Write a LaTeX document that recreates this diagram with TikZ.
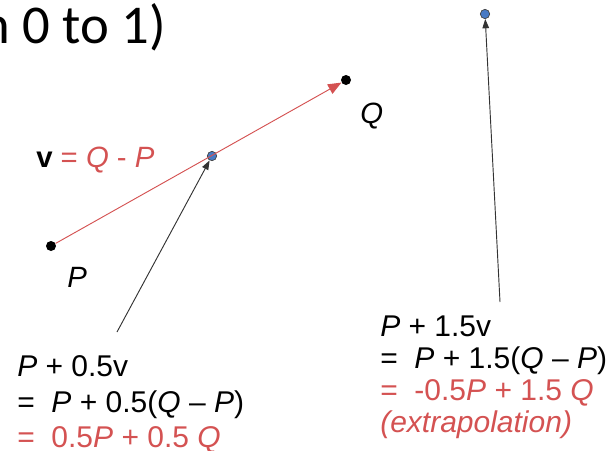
\documentclass[tikz,border=0pt]{standalone}
\usepackage{fontspec}
\setmainfont{Liberation Sans}
\newfontfamily\titlefont{Carlito}
\usetikzlibrary{arrows.meta}

\definecolor{exred}{RGB}{212,82,82}
\definecolor{ptblue}{RGB}{72,122,196}

\tikzset{
  dot/.style={circle,fill=black,inner sep=0pt,minimum size=7.5pt},
  bluedot/.style={circle,draw=black!75,fill=ptblue,inner sep=0pt,minimum size=7pt,line width=.5pt},
  vec/.style={exred,line width=.7pt,-{Triangle[length=10pt,width=8pt]}},
  pointer/.style={black!80,line width=.7pt,-{Triangle[length=7pt,width=5pt]}},
  lbl/.style={font=\fontsize{22}{26}\selectfont,inner sep=0pt},
  eqn/.style={align=left,anchor=north west,inner sep=0pt}
}

\begin{document}
\begin{tikzpicture}[x=.75pt,y=-.75pt]
    \useasboundingbox (0,0) rectangle (613,450);
    % title fragment
    \node[anchor=base east,inner sep=0pt,font=\titlefont\fontsize{41}{48}\selectfont] (title) at (166,43) {n 0 to 1)};
    % points
    \node[dot] (P) at (51,246) {};
    \node[dot] (Q) at (346,80) {};
    \node[bluedot] (mid) at (212,156) {};
    \node[bluedot] (far) at (485,14) {};
    \node[lbl,anchor=base west] (Plbl) at (67,287) {\textit{P}};
    \node[lbl,anchor=base west] (Qlbl) at (360,123) {\textit{Q}};
    \node[lbl,anchor=base west] (vlbl) at (36,167) {\textbf{v} \textcolor{exred}{= \textit{Q} - \textit{P}}};
    % v = Q - P
    \draw[vec] (P) -- (Q);
    % pointers to the two points
    \coordinate (midtail) at (117,332);
    \coordinate (fartail) at (500,302);
    \draw[pointer] (midtail) -- (mid);
    \draw[pointer] (fartail) -- (far);
    % expressions
    \node[eqn,font=\fontsize{22.5}{26.5}\selectfont] (halfeq) at (17,355.5)
      {\textit{P} + 0.5v\\
       = \ \textit{P} + 0.5(\textit{Q} – \textit{P})\\
       \textcolor{exred}{= \ 0.5\textit{P} + 0.5 \textit{Q}}};
    \node[eqn,font=\fontsize{22.5}{24}\selectfont] (fareq) at (380,315.5)
      {\textit{P} + 1.5v\\
       = \ \textit{P} + 1.5(\textit{Q} – \textit{P})\\
       \textcolor{exred}{= \ -0.5\textit{P} + 1.5 \textit{Q}}\\
       \textcolor{exred}{\textit{(extrapolation)}}};
  \end{tikzpicture}
\end{document}
